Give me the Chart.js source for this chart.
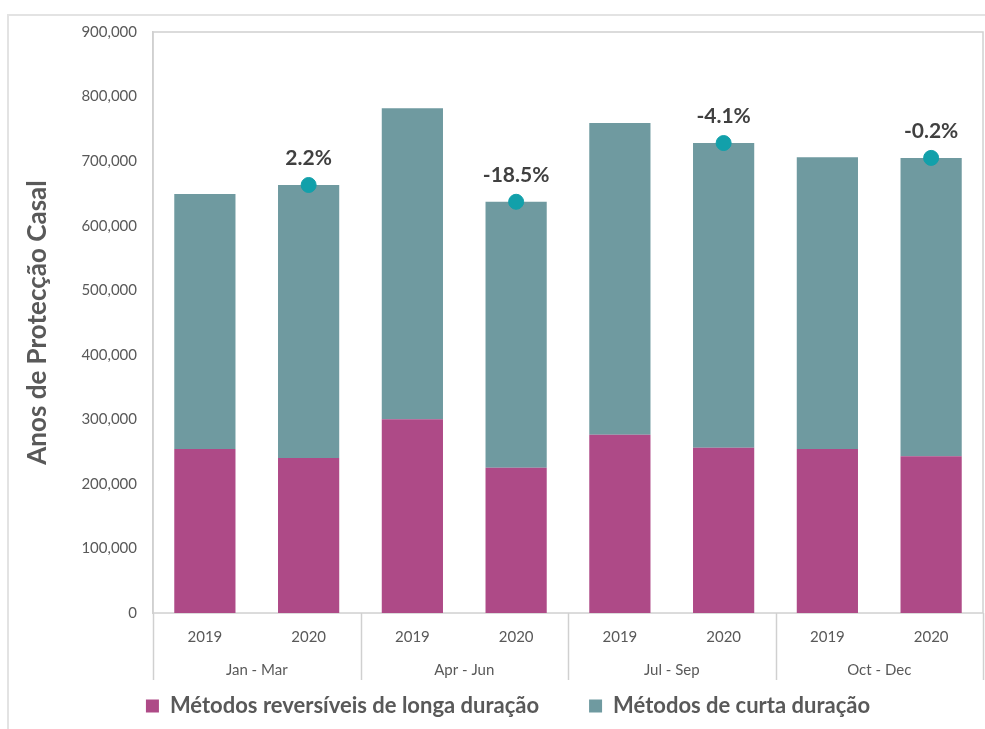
<!DOCTYPE html>
<html>
<head>
<meta charset="utf-8">
<script src="https://cdn.jsdelivr.net/npm/chart.js@4.4.1/dist/chart.umd.min.js"></script>
<style>
  html, body { margin: 0; padding: 0; background: #fff; }
  #wrap { position: relative; width: 985px; height: 729px; overflow: hidden; }
  #frame { position: absolute; left: 7px; top: 14px; width: 990px; height: 730px;
           border-top: 2px solid #e3e3e3; border-left: 2px solid #e3e3e3; }
  canvas { position: absolute; left: 0; top: 0; }
</style>
</head>
<body>
<div id="wrap">
  <div id="frame"></div>
  <canvas id="chart" width="985" height="729"></canvas>
</div>
<script>
// -- data
var years = ['2019', '2020', '2019', '2020', '2019', '2020', '2019', '2020'];
var quarters = ['Jan - Mar', 'Apr - Jun', 'Jul - Sep', 'Oct - Dec'];
var longActing = [254000, 240000, 300000, 225000, 276000, 256000, 254000, 243000];
var shortActing = [395000, 423000, 482000, 412000, 483000, 472000, 452000, 462000];
var changeLabels = [null, '2.2%', null, '-18.5%', null, '-4.1%', null, '-0.2%'];
var yTicks = [0, 100000, 200000, 300000, 400000, 500000, 600000, 700000, 800000, 900000];

var magenta = '#ae4a87';
var teal = '#6f9aa0';
var dotColor = '#12a0aa';
var axisGray = '#d0d0d0';
var textGray = '#595959';

// totals shown as dots on the 2020 bars only
var totals2020 = longActing.map(function (v, i) {
  return changeLabels[i] ? v + shortActing[i] : null;
});

var frameAndGroups = {
  id: 'frameAndGroups',
  beforeDatasetsDraw: function (chart) {
    var a = chart.chartArea, ctx = chart.ctx;
    ctx.save();
    ctx.strokeStyle = axisGray;
    ctx.lineWidth = 1.5;
    ctx.strokeRect(a.left, a.top, a.right - a.left, a.bottom - a.top);
    ctx.restore();
  },
  afterDraw: function (chart) {
    var ctx = chart.ctx, x = chart.scales.x;
    ctx.save();
    ctx.strokeStyle = axisGray;
    ctx.lineWidth = 1.5;
    // group separators under the axis, between the quarters
    var step = (x.right - x.left) / quarters.length;
    for (var g = 0; g <= quarters.length; g++) {
      var px = Math.round(x.left + g * step) + 0.5;
      ctx.beginPath();
      ctx.moveTo(px, x.top);
      ctx.lineTo(px, x.top + 67);
      ctx.stroke();
    }
    // percentage labels above the dots
    var meta = chart.getDatasetMeta(2);
    ctx.fillStyle = '#404040';
    ctx.font = 'bold 21px Lato';
    ctx.textAlign = 'center';
    ctx.textBaseline = 'middle';
    meta.data.forEach(function (pt, i) {
      if (!changeLabels[i]) return;
      ctx.fillText(changeLabels[i], pt.x, pt.y - 27);
    });
    ctx.restore();
  }
};

new Chart(document.getElementById('chart'), {
  data: {
    labels: years,
    datasets: [{
      type: 'bar',
      label: 'Métodos reversíveis de longa duração',
      data: longActing,
      backgroundColor: magenta,
      barPercentage: 0.59,
      categoryPercentage: 1,
      stack: 's',
      order: 2
    }, {
      type: 'bar',
      label: 'Métodos de curta duração',
      data: shortActing,
      backgroundColor: teal,
      barPercentage: 0.59,
      categoryPercentage: 1,
      stack: 's',
      order: 2
    }, {
      type: 'line',
      label: 'total',
      data: totals2020,
      showLine: false,
      pointRadius: 7.5,
      pointBackgroundColor: dotColor,
      pointBorderColor: dotColor,
      order: 1
    }]
  },
  options: {
    responsive: false,
    animation: false,
    events: [],
    layout: { autoPadding: false, padding: { left: 33, top: 32, right: 2, bottom: 2 } },
    plugins: {
      tooltip: { enabled: false },
      legend: {
        position: 'bottom',
        labels: {
          filter: function (item) { return item.datasetIndex < 2; },
          boxWidth: 13,
          boxHeight: 13,
          padding: 50,
          color: textGray,
          font: { family: 'Lato', size: 22, weight: 'bold' }
        }
      }
    },
    scales: {
      x: {
        stacked: true,
        grid: { display: false, drawTicks: false },
        border: { display: false },
        // mirror keeps the labels from being clipped to the thin axis box
        ticks: { mirror: true, color: textGray, padding: -33, font: { family: 'Lato', size: 15 } },
        afterFit: function (s) { s.height = 20; }
      },
      x2: {
        type: 'category',
        labels: quarters,
        offset: true,
        position: 'bottom',
        grid: { display: false, drawTicks: false },
        border: { display: false },
        ticks: { mirror: true, color: textGray, padding: -46, font: { family: 'Lato', size: 15 } },
        afterFit: function (s) { s.height = 12; }
      },
      y: {
        stacked: true,
        min: 0,
        max: 900000,
        afterBuildTicks: function (s) { s.ticks = yTicks.map(function (v) { return { value: v }; }); },
        grid: { display: false, drawTicks: false },
        border: { color: axisGray, width: 1.5 },
        ticks: {
          color: textGray,
          padding: 16,
          font: { family: 'Lato', size: 15 },
          callback: function (v) { return v.toLocaleString('en-US'); }
        },
        title: {
          display: true,
          text: 'Anos de Protecção Casal',
          color: textGray,
          padding: { top: -11, bottom: 0 },
          font: { family: 'Lato', size: 26, weight: 'bold' }
        },
        afterFit: function (s) { s.width = 120; }
      }
    }
  },
  plugins: [frameAndGroups]
});
</script>
</body>
</html>
